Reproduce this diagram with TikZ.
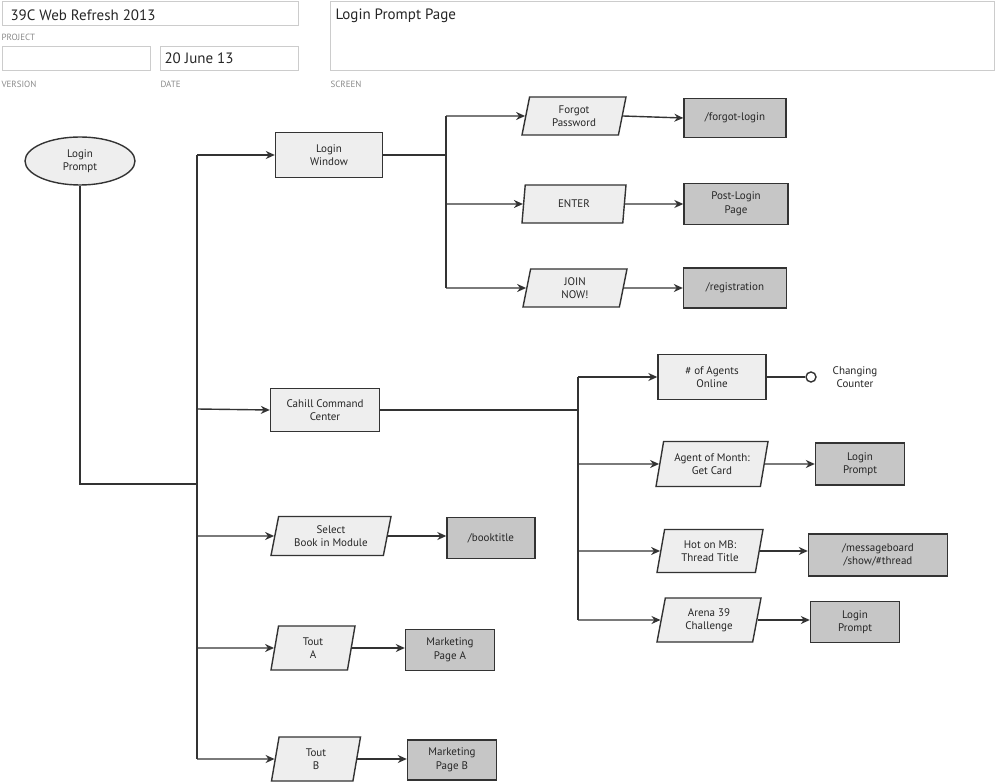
\documentclass[tikz,border=0pt]{standalone}
\usepackage{fontspec}
\setmainfont{PT Sans}
\usetikzlibrary{shapes.geometric,arrows.meta}
\definecolor{lite}{HTML}{EEEEEE}
\definecolor{dark}{HTML}{C6C6C6}
\definecolor{hdr}{HTML}{CCCCCC}
\definecolor{lbl}{HTML}{8A8A8A}
\begin{document}
\begin{tikzpicture}[x=1pt,y=-1pt,
  every node/.style={font=\fontsize{11}{13.5}\selectfont, align=center, text=black!85},
  base/.style={draw=black!80, line width=1.4pt, inner sep=1pt},
  box/.style={base, rectangle, fill=lite},
  pg/.style={base, trapezium, trapezium left angle=72, trapezium right angle=108, trapezium stretches body, fill=lite},
  dbox/.style={base, rectangle, fill=dark},
  hbox/.style={draw=hdr, line width=1pt},
  htxt/.style={anchor=west, font=\fontsize{15}{17}\selectfont},
  hlab/.style={anchor=west, text=lbl, font=\fontsize{9}{10}\selectfont},
  ln/.style={draw=black!80, line width=1.4pt},
  arr/.style={ln, -{Stealth[length=9pt,width=8pt]}}]
\useasboundingbox (0,0) rectangle (996,783);
% header
\draw[hbox] (2,2) rectangle (298,26);
\node[htxt] (t1) at (7,15) {39C Web Refresh 2013};
\node[hlab] (l1) at (-2,37) {PROJECT};
\draw[hbox] (2,47) rectangle (150,71);
\draw[hbox] (160,47) rectangle (298,71);
\node[htxt] (t2) at (161,58) {20 June 13};
\node[hlab] (l2) at (-2,84) {VERSION};
\node[hlab] (l3) at (157,84) {DATE};
\draw[hbox] (330,2) rectangle (994,71);
\node[htxt] (t3) at (332,16) {Login Prompt Page};
\node[hlab] (l4) at (327,84) {SCREEN};
% nodes
\node[base, ellipse, fill=lite, minimum width=110, minimum height=48] (lp) at (80,161) {Login\\Prompt};
\node[box, minimum width=107, minimum height=45] (lw) at (329,155) {Login\\Window};
\node[pg, minimum width=104, minimum height=38] (fp) at (574,116) {Forgot\\Password};
\node[dbox, minimum width=102, minimum height=39] (fl) at (735,118) {/forgot-login};
\node[pg, minimum width=104, minimum height=38] (en) at (574,204) {ENTER};
\node[dbox, minimum width=104, minimum height=41] (pl) at (736,204) {Post-Login\\Page};
\node[pg, minimum width=104, minimum height=38] (jn) at (575,288) {JOIN\\NOW!};
\node[dbox, minimum width=103, minimum height=40] (rg) at (735,288) {/registration};
\node[box, minimum width=109, minimum height=43] (cc) at (325,410) {Cahill Command\\Center};
\node[box, minimum width=108, minimum height=45] (ag) at (712,377) {\# of Agents\\Online};
\node[circle, draw=black!80, line width=1.4pt, fill=white, inner sep=0, minimum size=10] (ci) at (811,377) {};
\node (ct) at (855,377) {Changing\\Counter};
\node[pg, minimum width=112, minimum height=45] (am) at (712,464) {Agent of Month:\\Get Card};
\node[dbox, minimum width=89, minimum height=42] (lp1) at (860,464) {Login\\Prompt};
\node[pg, minimum width=106, minimum height=43] (hm) at (710,551) {Hot on MB:\\Thread Title};
\node[dbox, minimum width=139, minimum height=42] (mb) at (878,555) {/messageboard\\/show/\#thread};
\node[pg, minimum width=104, minimum height=44] (ar) at (709,620) {Arena 39\\Challenge};
\node[dbox, minimum width=89, minimum height=41] (lp2) at (855,622) {Login\\Prompt};
\node[pg, minimum width=120, minimum height=39] (sb) at (331,536) {Select\\Book in Module};
\node[dbox, minimum width=88, minimum height=41] (bt) at (491,538) {/booktitle};
\node[pg, minimum width=84, minimum height=44] (ta) at (313,648) {Tout\\A};
\node[dbox, minimum width=89, minimum height=41] (ma) at (450,650) {Marketing\\Page A};
\node[pg, minimum width=89, minimum height=44] (tb) at (316,759) {Tout\\B};
\node[dbox, minimum width=89, minimum height=40] (mbb) at (452,760) {Marketing\\Page B};
% connectors
\coordinate (j0) at (197,484);
\draw[ln] (lp.south) |- (j0);
\draw[ln] (197,155) -- (197,759);
\draw[arr] (197,155) -- (lw.west);
\draw[arr] (197,409) -- (cc.west);
\draw[arr] (197,536) -- (sb.west);
\draw[arr] (197,648) -- (ta.west);
\draw[arr] (197,759) -- (tb.west);
\draw[ln] (lw.east) -- (446,155);
\draw[ln] (446,116) -- (446,288);
\draw[arr] (446,116) -- (fp.west);
\draw[arr] (446,204) -- (en.west);
\draw[arr] (446,288) -- (jn.west);
\draw[arr] (fp.east) -- (fl.west);
\draw[arr] (en.east) -- (pl.west);
\draw[arr] (jn.east) -- (rg.west);
\draw[ln] (cc.east) -- (578,410);
\draw[ln] (578,377) -- (578,620);
\draw[arr] (578,377) -- (ag.west);
\draw[arr] (578,464) -- (am.west);
\draw[arr] (578,551) -- (hm.west);
\draw[arr] (578,620) -- (ar.west);
\draw[ln] (ag.east) -- (ci.west);
\draw[arr] (am.east) -- (lp1.west);
\draw[arr] (hm.east) -- (mb.west |- hm.east);
\draw[arr] (ar.east) -- (lp2.west |- ar.east);
\draw[arr] (sb.east) -- (bt.west |- sb.east);
\draw[arr] (ta.east) -- (ma.west |- ta.east);
\draw[arr] (tb.east) -- (mbb.west |- tb.east);
\end{tikzpicture}
\end{document}
